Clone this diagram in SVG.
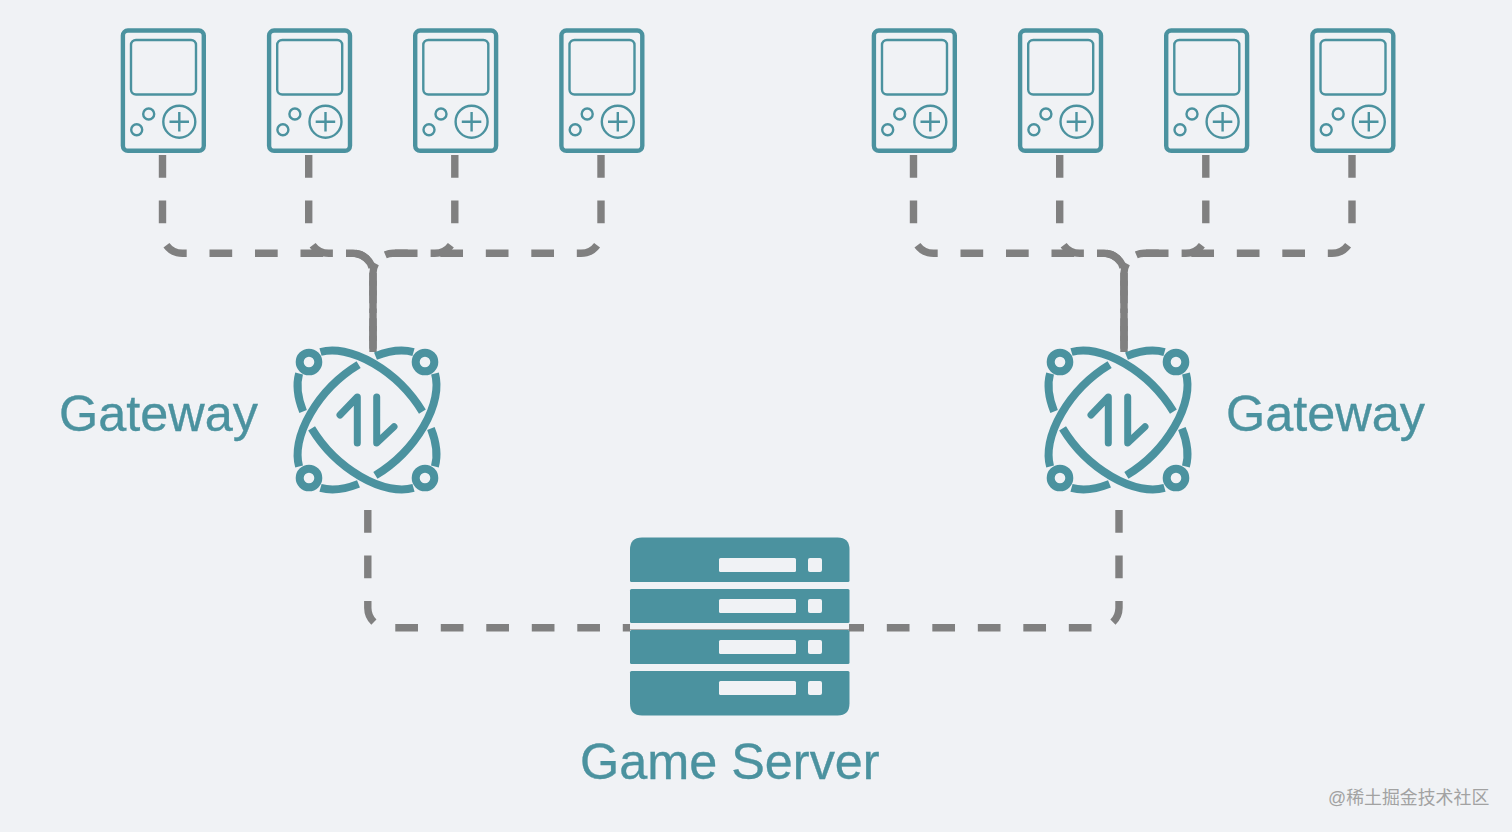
<svg xmlns="http://www.w3.org/2000/svg" width="1512" height="832" viewBox="0 0 1512 832">
<style>
.t{fill:#4b929f;stroke:#4b929f;stroke-width:.35px;font-family:"Liberation Sans",Arial,sans-serif;font-size:50.4px}
.w{fill:#a2a2a2;font-family:"Liberation Sans","Noto Sans CJK SC",sans-serif;font-size:17.9px}
.c{fill:none;stroke:#808080;stroke-width:7.4;stroke-dasharray:22.7 22.8}
.i{fill:none;stroke:#4b929f}
.s{fill:#4b929f}
.l{fill:#f0f2f5}
</style>
<defs>
<g id="device">
<rect class="i" x="1.900" y="1.500" width="80.900" height="120.300" rx="5" stroke-width="4.400"/>
<rect class="i" x="10" y="11" width="65" height="54.500" rx="5" stroke-width="2.400"/>
<circle class="i" cx="58.300" cy="92.700" r="16" stroke-width="2.400"/>
<path class="i" d="M58.300 83V102.500M48.500 92.700H68" stroke-width="2.400"/>
<circle class="i" cx="27.700" cy="85" r="5.500" stroke-width="2.400"/>
<circle class="i" cx="15.700" cy="100.700" r="5.500" stroke-width="2.400"/>
</g>
<g id="half">
<path class="i" stroke-width="8" d="M-46.500 -68A85 49 45 0 1 55.400 -8.400M63.900 8.500A85 49 45 0 1 67.900 46.500M46.500 67.900A85 49 45 0 1 -55.400 8.400M-63.900 -8.500A85 49 45 0 1 -67.900 -46.500"/>
</g>
<g id="gateway">
<use href="#half"/>
<use href="#half" transform="rotate(90)"/>
<circle class="i" cx="-58" cy="-58" r="9.300" stroke-width="8"/>
<circle class="i" cx="58" cy="-58" r="9.300" stroke-width="8"/>
<circle class="i" cx="-58" cy="58" r="9.300" stroke-width="8"/>
<circle class="i" cx="58" cy="58" r="9.300" stroke-width="8"/>
<path class="i" stroke-width="7" stroke-linecap="round" stroke-linejoin="round" d="M-9.700 23V-23L-27 -5M9.700 -23V23L27 6.700"/>
</g>
</defs>
<rect width="1512" height="832" fill="#f0f2f5"/>
<g id="connectors">
<path class="c" d="M162.500 155V233A20 20 0 0 0 182.500 253.300H353A20 20 0 0 1 373 273V352"/>
<path class="c" d="M308.700 155V233A20 20 0 0 0 328.700 253.300H353A20 20 0 0 1 373 273V352"/>
<path class="c" d="M454.800 155V233A20 20 0 0 1 434.800 253.300H393A20 20 0 0 0 373 273V352"/>
<path class="c" d="M601 155V233A20 20 0 0 1 581 253.300H393A20 20 0 0 0 373 273V352"/>
<path class="c" d="M913.500 155V233A20 20 0 0 0 933.500 253.300H1104A20 20 0 0 1 1124 273V352"/>
<path class="c" d="M1059.700 155V233A20 20 0 0 0 1079.700 253.300H1104A20 20 0 0 1 1124 273V352"/>
<path class="c" d="M1205.800 155V233A20 20 0 0 1 1185.800 253.300H1144A20 20 0 0 0 1124 273V352"/>
<path class="c" d="M1352 155V233A20 20 0 0 1 1332 253.300H1144A20 20 0 0 0 1124 273V352"/>
<path class="c" d="M367.800 510V608A20 20 0 0 0 387.800 627.800H640"/>
<path class="c" d="M1119 510V608A20 20 0 0 1 1099 627.800H840"/>
</g>
<g id="device-1" transform="translate(121 29)"><use href="#device"/></g>
<g id="device-2" transform="translate(267.200 29)"><use href="#device"/></g>
<g id="device-3" transform="translate(413.300 29)"><use href="#device"/></g>
<g id="device-4" transform="translate(559.500 29)"><use href="#device"/></g>
<g id="device-5" transform="translate(872 29)"><use href="#device"/></g>
<g id="device-6" transform="translate(1018.200 29)"><use href="#device"/></g>
<g id="device-7" transform="translate(1164.300 29)"><use href="#device"/></g>
<g id="device-8" transform="translate(1310.500 29)"><use href="#device"/></g>
<g id="gateway-left"><use href="#gateway" transform="translate(367 420)"/><text class="t" x="59" y="431">Gateway</text></g>
<g id="gateway-right"><use href="#gateway" transform="translate(1118 420)"/><text class="t" x="1226" y="431">Gateway</text></g>
<g id="game-server">
<path class="l" d="M630 622H849V632H630Z"/>
<path d="M630 629.500H849" stroke="#a8a8a8" stroke-width="1.200"/>
<path class="s" d="M642 537.500H837.500Q849.500 537.500 849.500 549.500V580.500Q849.500 582 848 582H631.500Q630 582 630 580.500V549.500Q630 537.500 642 537.500Z"/>
<rect class="s" x="630" y="589" width="219.500" height="34" rx="1.500"/>
<rect class="s" x="630" y="630" width="219.500" height="34" rx="1.500"/>
<path class="s" d="M631.500 671H848Q849.500 671 849.500 672.500V703.500Q849.500 715.500 837.500 715.500H642Q630 715.500 630 703.500V672.500Q630 671 631.500 671Z"/>
<rect class="l" x="719" y="558" width="77" height="14" rx="1.500"/>
<rect class="l" x="808" y="558" width="14" height="14" rx="2"/>
<rect class="l" x="719" y="599" width="77" height="14" rx="1.500"/>
<rect class="l" x="808" y="599" width="14" height="14" rx="2"/>
<rect class="l" x="719" y="640" width="77" height="14" rx="1.500"/>
<rect class="l" x="808" y="640" width="14" height="14" rx="2"/>
<rect class="l" x="719" y="681" width="77" height="14" rx="1.500"/>
<rect class="l" x="808" y="681" width="14" height="14" rx="2"/>
<text class="t" x="580" y="779">Game Server</text>
</g>
<text class="w" x="1328" y="804">@稀土掘金技术社区</text>
</svg>
